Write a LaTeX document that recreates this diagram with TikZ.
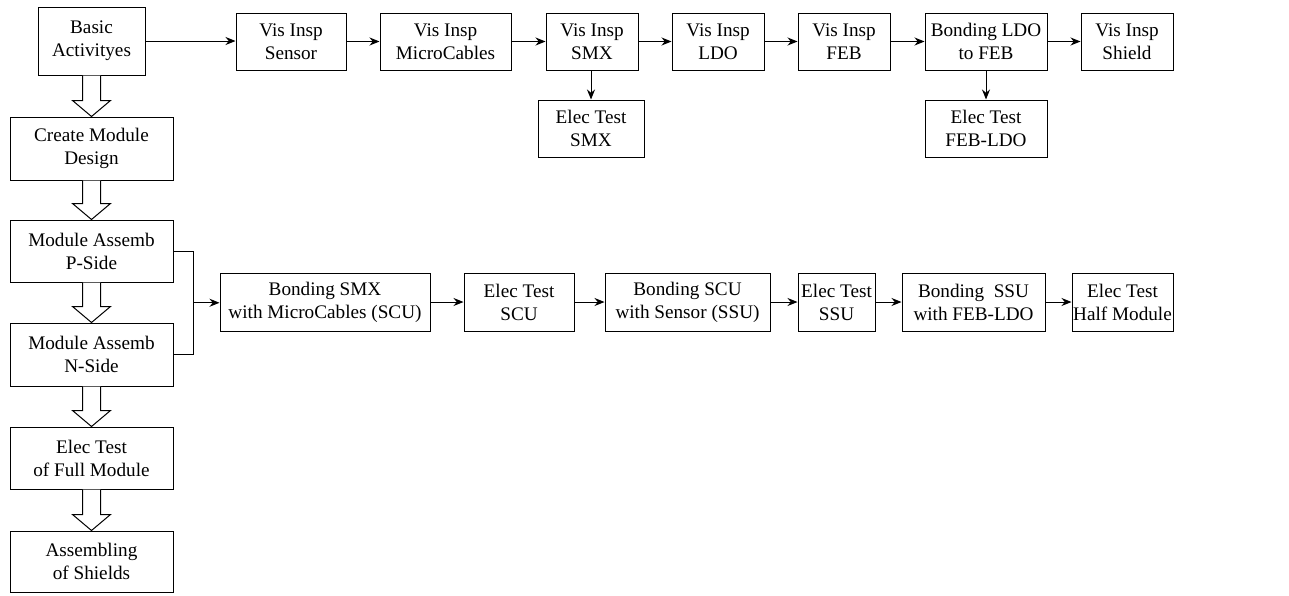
\documentclass[tikz,border=0pt]{standalone}
\usepackage{fontspec}
\setmainfont{Liberation Serif}
\usetikzlibrary{arrows.meta,calc}

\tikzset{
  blk/.style={draw, line width=1pt, align=center, inner sep=0pt,
    font=\fontsize{19.2}{23}\selectfont},
  arr/.style={-{Stealth[length=10pt, width=8pt]}, line width=1pt},
  hollow/.style={draw, line width=1pt, fill=white, line join=miter}
}

% hollow arrow between two stacked boxes
\newcommand{\hollowarrow}[2]{%
  \draw[hollow] ($(#1.south)+(-9,0)$) -- ($(#2.north)+(-9,-16)$)
    -- ($(#2.north)+(-19,-16)$) -- (#2.north) -- ($(#2.north)+(19,-16)$)
    -- ($(#2.north)+(9,-16)$) -- ($(#1.south)+(9,0)$);
}

\begin{document}
\begin{tikzpicture}[x=1pt, y=-1pt]
        \useasboundingbox (0,0) rectangle (1289,595);

        % left column
        \node[blk, minimum width=107, minimum height=68] (basic) at (91.5,41) {Basic\\Activityes};
        \node[blk, minimum width=163, minimum height=63] (design) at (91.5,148.5) {Create Module\\Design};
        \node[blk, minimum width=163, minimum height=62] (pside) at (91.5,251) {Module Assemb\\P-Side};
        \node[blk, minimum width=163, minimum height=63] (nside) at (91.5,354.5) {Module Assemb\\N-Side};
        \node[blk, minimum width=163, minimum height=62] (fulltest) at (91.5,458) {Elec Test\\of Full Module};
        \node[blk, minimum width=163, minimum height=61] (shields) at (91.5,561.5) {Assembling\\of Shields};

        % top row
        \node[blk, minimum width=110, minimum height=57] (sensor) at (291,41.5) {Vis Insp\\Sensor};
        \node[blk, minimum width=131, minimum height=57] (micro) at (445.5,41.5) {Vis Insp\\MicroCables};
        \node[blk, minimum width=92, minimum height=57] (smx) at (592,41.5) {Vis Insp\\SMX};
        \node[blk, minimum width=92, minimum height=57] (ldo) at (718,41.5) {Vis Insp\\LDO};
        \node[blk, minimum width=92, minimum height=57] (feb) at (844,41.5) {Vis Insp\\FEB};
        \node[blk, minimum width=122, minimum height=57] (bondldo) at (986,41.5) {Bonding LDO\\to FEB};
        \node[blk, minimum width=92, minimum height=57] (shield) at (1127,41.5) {Vis Insp\\Shield};
        \node[blk, minimum width=106, minimum height=57] (testsmx) at (591,128.5) {Elec Test\\SMX};
        \node[blk, minimum width=122, minimum height=57] (testfeb) at (986,128.5) {Elec Test\\FEB-LDO};

        % bottom row
        \node[blk, minimum width=210, minimum height=58] (bsmx) at (325,302) {Bonding SMX\\with MicroCables (SCU)};
        \node[blk, minimum width=110, minimum height=58] (tscu) at (519,302) {Elec Test\\SCU};
        \node[blk, minimum width=165, minimum height=58] (bscu) at (687.5,302) {Bonding SCU\\with Sensor (SSU)};
        \node[blk, minimum width=77, minimum height=58] (tssu) at (836.5,302) {Elec Test\\SSU};
        \node[blk, minimum width=143, minimum height=58] (bssu) at (973.5,302) {Bonding\ \ SSU\\with FEB-LDO};
        \node[blk, minimum width=101, minimum height=58] (thalf) at (1122.5,302) {Elec Test\\Half Module};

        \hollowarrow{basic}{design}
        \hollowarrow{design}{pside}
        \hollowarrow{pside}{nside}
        \hollowarrow{nside}{fulltest}
        \hollowarrow{fulltest}{shields}

        \draw[arr] (basic.east) -- (basic.east -| sensor.west);
        \draw[arr] (sensor) -- (micro);
        \draw[arr] (micro) -- (smx);
        \draw[arr] (smx) -- (ldo);
        \draw[arr] (ldo) -- (feb);
        \draw[arr] (feb) -- (bondldo);
        \draw[arr] (bondldo) -- (shield);
        \draw[arr] (smx.south -| testsmx.north) -- (testsmx.north);
        \draw[arr] (bondldo) -- (testfeb);

        \draw[line width=1pt] (pside.east) -- ++(20,0) coordinate (brk) |- (nside.east);
        \coordinate (brkmid) at ($(brk)!0.5!(brk |- nside.east)$);
        \draw[arr] (brkmid) -- (brkmid -| bsmx.west);
        \draw[arr] (bsmx) -- (tscu);
        \draw[arr] (tscu) -- (bscu);
        \draw[arr] (bscu) -- (tssu);
        \draw[arr] (tssu) -- (bssu);
        \draw[arr] (bssu) -- (thalf);
      \end{tikzpicture}
\end{document}
